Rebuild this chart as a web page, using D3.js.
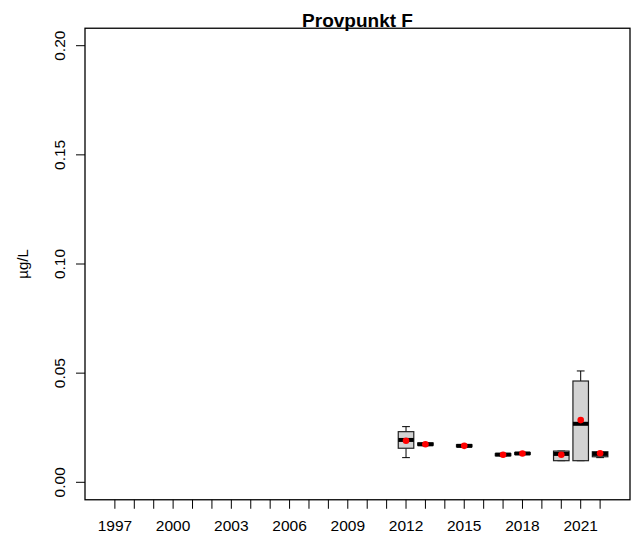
<!DOCTYPE html>
<html>
<head>
<meta charset="utf-8">
<script src="https://cdn.jsdelivr.net/npm/d3@7"></script>
<style>
  html, body { margin: 0; padding: 0; background: #fff; }
  svg { display: block; font-family: "Liberation Sans", Arial, sans-serif; }
</style>
</head>
<body>
<svg id="chart" width="631" height="538"></svg>
<script>
// Axis years (one tick per year, label every third year)
const years = d3.range(1997, 2023);
const labelYears = [1997, 2000, 2003, 2006, 2009, 2012, 2015, 2018, 2021];
const yTicks = [0.00, 0.05, 0.10, 0.15, 0.20];

// Box statistics per sampled year (µg/L)
const boxYears    = [2012,   2013,   2015,   2017,   2018,   2020,   2021,   2022];
const whiskerLow  = [0.0113, 0.0168, 0.0161, 0.0121, 0.0128, 0.0099, 0.0099, 0.0113];
const q1          = [0.0156, 0.0170, 0.0163, 0.0122, 0.0128, 0.0099, 0.0099, 0.0117];
const medians     = [0.0194, 0.0174, 0.0167, 0.0127, 0.0132, 0.0130, 0.0268, 0.0130];
const q3          = [0.0232, 0.0180, 0.0172, 0.0131, 0.0136, 0.0143, 0.0464, 0.0140];
const whiskerHigh = [0.0255, 0.0181, 0.0173, 0.0132, 0.0137, 0.0143, 0.0510, 0.0140];
const means       = [0.0190, 0.0174, 0.0167, 0.0126, 0.0132, 0.0126, 0.0285, 0.0133];

(function () {
  const svg = d3.select("#chart");

  // Plot region (4% padding around the data range)
  const x = d3.scaleLinear().domain([1995.46, 2023.54]).range([85, 630]);
  const y = d3.scaleLinear().domain([0, 0.2]).range([482.3, 45.7]);
  const pad = 0.008;
  const plotTop = y(0.2 + pad), plotBottom = y(0 - pad);
  const plotLeft = x.range()[0], plotRight = x.range()[1];

  const unit = x(1) - x(0);
  const boxW = 0.8 * unit;
  const capW = 0.4 * unit;

  const stats = boxYears.map((yr, i) => ({
    yr, lo: whiskerLow[i], q1: q1[i], med: medians[i], q3: q3[i], hi: whiskerHigh[i], mean: means[i]
  }));

  const g = svg.append("g");
  stats.forEach(d => {
    const cx = x(d.yr);
    const bg = g.append("g");
    // whiskers
    bg.append("line").attr("x1", cx).attr("x2", cx).attr("y1", y(d.hi)).attr("y2", y(d.q3))
      .attr("stroke", "#000").attr("stroke-width", 1);
    bg.append("line").attr("x1", cx).attr("x2", cx).attr("y1", y(d.q1)).attr("y2", y(d.lo))
      .attr("stroke", "#000").attr("stroke-width", 1);
    // staples
    bg.append("line").attr("x1", cx - capW / 2).attr("x2", cx + capW / 2).attr("y1", y(d.hi)).attr("y2", y(d.hi))
      .attr("stroke", "#000").attr("stroke-width", 1);
    bg.append("line").attr("x1", cx - capW / 2).attr("x2", cx + capW / 2).attr("y1", y(d.lo)).attr("y2", y(d.lo))
      .attr("stroke", "#000").attr("stroke-width", 1);
    // box
    bg.append("rect")
      .attr("x", cx - boxW / 2).attr("width", boxW)
      .attr("y", y(d.q3)).attr("height", Math.max(1, y(d.q1) - y(d.q3)))
      .attr("fill", "#d3d3d3").attr("stroke", "#222").attr("stroke-width", 1.2);
    // median
    bg.append("line").attr("x1", cx - boxW / 2).attr("x2", cx + boxW / 2).attr("y1", y(d.med)).attr("y2", y(d.med))
      .attr("stroke", "#000").attr("stroke-width", 4);
    // mean
    bg.append("circle").attr("cx", cx).attr("cy", y(d.mean)).attr("r", 3.3).attr("fill", "#ff0000");
  });

  // Frame
  svg.append("rect")
    .attr("x", plotLeft).attr("y", plotTop).attr("width", plotRight - plotLeft).attr("height", plotBottom - plotTop)
    .attr("fill", "none").attr("stroke", "#000").attr("stroke-width", 1.3);

  // X axis ticks and labels
  const xAxis = svg.append("g").attr("transform", `translate(0,${plotBottom})`);
  xAxis.selectAll("line").data(years).join("line")
    .attr("x1", d => x(d)).attr("x2", d => x(d)).attr("y1", 0).attr("y2", 9)
    .attr("stroke", "#000").attr("stroke-width", 1);
  xAxis.selectAll("text").data(labelYears).join("text")
    .attr("x", d => x(d)).attr("y", 31)
    .attr("text-anchor", "middle").attr("font-size", 15.5).attr("fill", "#000")
    .text(d => d);

  // Y axis ticks and labels (rotated)
  const yAxis = svg.append("g").attr("transform", `translate(${plotLeft},0)`);
  yAxis.selectAll("line").data(yTicks).join("line")
    .attr("x1", -9).attr("x2", 0).attr("y1", d => y(d)).attr("y2", d => y(d))
    .attr("stroke", "#000").attr("stroke-width", 1);
  yAxis.selectAll("text").data(yTicks).join("text")
    .attr("transform", d => `translate(-20,${y(d)}) rotate(-90)`)
    .attr("text-anchor", "middle").attr("font-size", 15.5).attr("fill", "#000")
    .text(d => d3.format(".2f")(d));

  // Y axis title
  svg.append("text")
    .attr("transform", `translate(28,${(plotTop + plotBottom) / 2}) rotate(-90)`)
    .attr("text-anchor", "middle").attr("font-size", 15).attr("fill", "#000")
    .text("µg/L");

  // Title
  svg.append("text")
    .attr("x", (plotLeft + plotRight) / 2).attr("y", 27)
    .attr("text-anchor", "middle").attr("font-size", 19).attr("font-weight", "bold").attr("fill", "#000")
    .text("Provpunkt F");
})();
</script>
</body>
</html>
